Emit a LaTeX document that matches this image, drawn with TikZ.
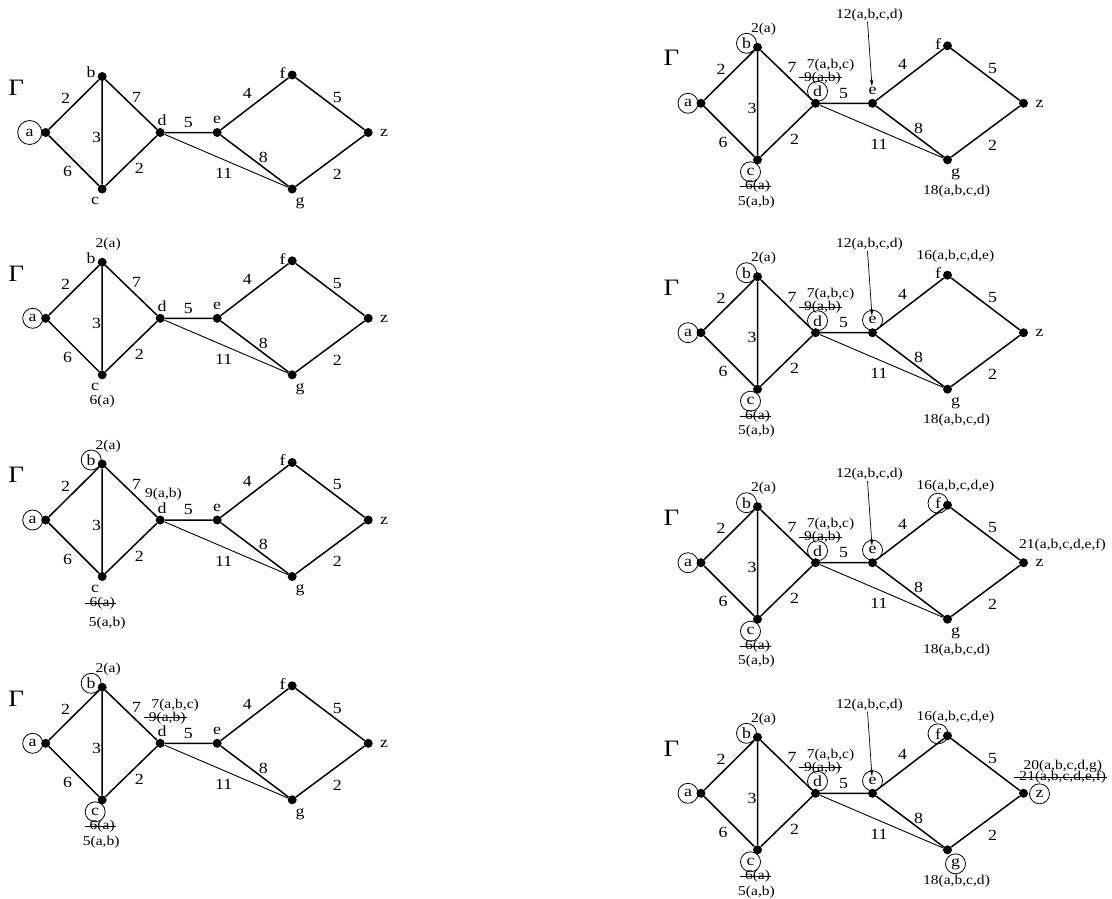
\documentclass[tikz,border=0pt]{standalone}
\usepackage{fontspec}
\setmainfont{Liberation Serif}[FakeStretch=1.15]
\usetikzlibrary{arrows.meta}
\tikzset{
  dot/.style={circle, fill=black, inner sep=0pt, minimum size=9pt},
  edge/.style={line width=1.5pt},
  thinedge/.style={line width=0.9pt},
  wt/.style={inner sep=0pt, font=\fontsize{15.5}{15.5}\selectfont},
  lbl/.style={circle, inner sep=0pt, minimum size=20pt, font=\fontsize{15.5}{15.5}\selectfont},
  visited/.style={draw, line width=0.8pt},
  small/.style={inner sep=0pt, font=\fontsize{13.5}{13.5}\selectfont},
  strike/.style={line width=0.9pt},
  gam/.style={inner sep=0pt, font=\fontsize{23.5}{23.5}\selectfont},
  pointer/.style={line width=0.7pt, -{Stealth[length=7pt,width=3.5pt]}},
  circA/.style={}, circB/.style={}, circC/.style={}, circD/.style={},
  circE/.style={}, circF/.style={}, circG/.style={}, circZ/.style={}
}
\newcommand{\basegraph}{%
  \node[dot] (a) at (0,0) {};
  \node[dot] (b) at (56.5,-56) {};
  \node[dot] (c) at (56.5,56.5) {};
  \node[dot] (d) at (114.5,0) {};
  \node[dot] (e) at (171.5,0) {};
  \node[dot] (f) at (246.5,-57.5) {};
  \node[dot] (g) at (246.5,56.5) {};
  \node[dot] (z) at (322.5,0) {};
  \draw[edge] (a)--(b) (a)--(c) (b)--(c) (b)--(d) (c)--(d) (d)--(e)
              (e)--(f) (f)--(z) (e)--(g) (g)--(z);
  \draw[thinedge] (d)--(g);
  \node[wt] (wab) at (20,-34) {2};
  \node[wt] (wac) at (22,39) {6};
  \node[wt] (wbc) at (51,5) {3};
  \node[wt] (wbd) at (91,-35.5) {7};
  \node[wt] (wcd) at (93.6,36) {2};
  \node[wt] (wde) at (142.6,-10.3) {5};
  \node[wt] (wef) at (201.6,-38.7) {4};
  \node[wt] (wfz) at (291.6,-35.3) {5};
  \node[wt] (weg) at (217.6,24.7) {8};
  \node[wt] (wdg) at (178,41) {11};
  \node[wt] (wgz) at (291.6,41.6) {2};
  \node[gam] (G) at (-29.5,-45) {Γ};
  \node[lbl,circA] (la) at (-13,0) {a};
  \node[lbl,circB] (lb) at (45.5,-60) {b};
  \node[lbl,circC] (lc) at (49.5,68.5) {c};
  \node[lbl,circD] (ld) at (116.5,-12) {d};
  \node[lbl,circE] (le) at (171.5,-12.5) {e};
  \node[lbl,circF] (lf) at (237,-59.5) {f};
  \node[lbl,circG] (lg) at (254.5,70.5) {g};
  \node[lbl,circZ] (lz) at (338.5,0.5) {z};
}
\newcommand{\labB}{\node[small] (tb) at (62.5,-74) {2(a)};}
\newcommand{\labCold}{\node[small] (tc1) at (56.5,83.3) {6(a)};}
\newcommand{\strikeCold}{\draw[strike] ([xshift=-5pt]tc1.west) -- ([xshift=1pt]tc1.east);}
\newcommand{\labDnew}{%
  \node[small] (td2) at (129.5,-38) {7(a,b,c)};
  \node[small] (td1) at (121.5,-25.5) {9(a,b)};
  \draw[strike] ([xshift=-5pt]td1.west) -- ([xshift=1pt]td1.east);}
\newcommand{\labE}{%
  \node[small] (te) at (168.5,-88) {12(a,b,c,d)};
  \coordinate (etip) at (171,-17);
  \draw[pointer] ([xshift=-2pt]te.south) -- (etip);}
\newcommand{\labG}{\node[small] (tg) at (255.5,87.5) {18(a,b,c,d)};}
\newcommand{\labF}{\node[small] (tf) at (254.5,-76.5) {16(a,b,c,d,e)};}
\begin{document}
\begin{tikzpicture}[x=1pt,y=-1pt]
\fill[white] (0,0) rectangle (1112,898);
\useasboundingbox (0,0) rectangle (1112,898);
% panel 1
\begin{scope}[shift={(45.7,132.5)}, name prefix=p1-,
  circA/.style={visited, minimum size=24pt, xshift=-3pt}]
  \basegraph
\end{scope}
% panel 2
\begin{scope}[shift={(45.7,318.3)}, name prefix=p2-, circA/.style={visited}]
  \basegraph
  \labB
  \labCold
\end{scope}
% panel 3
\begin{scope}[shift={(45.7,520)}, name prefix=p3-,
  circA/.style={visited}, circB/.style={visited}]
  \basegraph
  \labB
  \labCold \strikeCold
  \node[small] (tc2) at (61.5,102.8) {5(a,b)};
  \node[small] (td1) at (117.8,-26) {9(a,b)};
\end{scope}
% panel 4
\begin{scope}[shift={(45.7,743.3)}, name prefix=p4-,
  circA/.style={visited}, circB/.style={visited}, circC/.style={visited}]
  \basegraph
  \labB
  \labCold \strikeCold
  \node[small] (tc2) at (55.5,98.5) {5(a,b)};
  \labDnew
\end{scope}
% panel 5
\begin{scope}[shift={(701,103.3)}, name prefix=p5-,
  circA/.style={visited}, circB/.style={visited}, circC/.style={visited},
  circD/.style={visited}]
  \basegraph
  \labB
  \labCold \strikeCold
  \node[small] (tc2) at (55.5,98.5) {5(a,b)};
  \labDnew
  \labE
  \labG
\end{scope}
% panel 6
\begin{scope}[shift={(701,332.7)}, name prefix=p6-,
  circA/.style={visited}, circB/.style={visited}, circC/.style={visited},
  circD/.style={visited}, circE/.style={visited}]
  \basegraph
  \labB
  \labCold \strikeCold
  \node[small] (tc2) at (55.5,98.5) {5(a,b)};
  \labDnew
  \labE
  \labG
  \labF
\end{scope}
% panel 7
\begin{scope}[shift={(701,562.7)}, name prefix=p7-,
  circA/.style={visited}, circB/.style={visited}, circC/.style={visited},
  circD/.style={visited}, circE/.style={visited}, circF/.style={visited}]
  \basegraph
  \labB
  \labCold \strikeCold
  \node[small] (tc2) at (55.5,98.5) {5(a,b)};
  \labDnew
  \labE
  \labG
  \labF
  \node[small] (tz1) at (361.5,-17.7) {21(a,b,c,d,e,f)};
\end{scope}
% panel 8
\begin{scope}[shift={(701,793.3)}, name prefix=p8-,
  circA/.style={visited}, circB/.style={visited}, circC/.style={visited},
  circD/.style={visited}, circE/.style={visited}, circF/.style={visited},
  circG/.style={visited}, circZ/.style={visited}]
  \basegraph
  \labB
  \labCold \strikeCold
  \node[small] (tc2) at (55.5,98.5) {5(a,b)};
  \labDnew
  \labE
  \labG
  \labF
  \node[small] (tz2) at (361.8,-27.5) {20(a,b,c,d,g)};
  \node[small] (tz1) at (361.8,-15.7) {21(a,b,c,d,e,f)};
  \draw[strike] ([xshift=-5pt]tz1.west) -- ([xshift=1pt]tz1.east);
\end{scope}
\end{tikzpicture}
\end{document}
